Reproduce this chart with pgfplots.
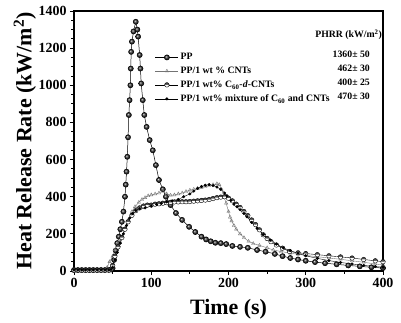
\documentclass[border=0pt]{standalone}
\usepackage{pgfplots}
\pgfplotsset{compat=1.18}
\usepackage{fontspec}
\setmainfont{Liberation Serif}
\begin{document}
\begin{tikzpicture}
\begin{axis}[at={(0,0)}, anchor=south west, scale only axis,
  width=309bp, height=260bp,
  xmin=0, xmax=400, ymin=0, ymax=1400,
  xtick={0,100,...,400}, ytick={0,200,...,1400},
  minor x tick num=1, minor y tick num=3,
  tick align=outside, tick pos=left,
  axis line style={line width=1.1pt},
  major tick length=4bp, minor tick length=2.5bp,
  every tick/.style={line width=0.9pt, black},
  ticklabel style={font=\fontsize{14}{14}\selectfont\bfseries},
  /pgf/number format/assume math mode=true,
  /pgf/number format/set thousands separator={},
  label style={font=\fontsize{22}{24}\selectfont\bfseries},
  xlabel={Time (s)}, ylabel={Heat Release Rate (kW/m\textsuperscript{2})},
  xlabel style={at={(axis description cs:0.5,-0.146)}, anchor=center},
  ylabel style={at={(axis description cs:-0.159,0.5)}, anchor=center},
  legend style={at={(rel axis cs:0.262,0.845)}, anchor=north west, draw=none, fill=none,
    font=\fontsize{9.8}{11}\selectfont\bfseries, row sep=1.7bp, inner sep=0pt},
  legend cell align=left,
  legend image code/.code={\draw[mark repeat=2,mark phase=2,#1] plot coordinates {(0bp,0bp) (11.5bp,0bp) (23bp,0bp)};},
]
% PP
\addplot[black, line width=0.5pt, mark=ball, mark size=2.6bp, mark options={ball color=black!80}] coordinates {
(0,5)(5,5)(10,5)(15,5)(20,5)(25,5)(30,5)(35,5)(40,5)(45,6)(48,8)(50,15)(52,60)(54,110)(56,150)(58,185)(60,225)(62,265)(64,320)(66,400)(67,465)(68,535)(69,615)(70,720)(71,840)(72,920)(73,1000)(73.5,1090)(74,1180)(75,1235)(77,1290)(80,1342)(82,1300)(83,1262)(85,1163)(86,1090)(87,1010)(89,920)(91,840)(94,776)(98,705)(102,650)(106,570)(110,490)(115,440)(119,400)(125,355)(132,312)(140,275)(149,238)(157,210)(165,185)(171,170)(177,160)(183,152)(190,150)(197,145)(205,135)(215,130)(225,125)(237,113)(248,104)(260,92)(270,80)(280,70)(290,62)(300,55)(312,48)(325,42)(340,36)(355,30)(370,25)(385,20)(400,16)};
\addlegendentry{PP}
% CNTs
\addplot[black!55, line width=0.4pt, mark=triangle, mark size=1.9bp, mark options={black!55, line width=0.4pt}] coordinates {
(0,8)(5,8)(10,8)(15,8)(20,8)(25,8)(30,8)(35,8)(40,8)(43,20)(46,50)(50,80)(53,113)(57,150)(62,185)(66,230)(70,274)(75,320)(79,346)(84,370)(88,385)(92,395)(96,405)(100,410)(105,415)(110,420)(115,430)(120,415)(125,408)(130,410)(135,415)(140,420)(145,428)(150,435)(155,440)(160,445)(165,450)(170,455)(175,460)(180,465)(185,470)(188,465)(191,440)(194,400)(197,365)(200,320)(202,290)(204,270)(207,245)(210,225)(215,200)(220,180)(226,160)(232,148)(240,138)(250,125)(258,113)(268,105)(280,96)(290,90)(300,84)(315,77)(330,70)(345,63)(360,55)(375,47)(390,38)(400,33)};
\addlegendentry{PP/1 wt \% CNTs}
% C60-d-CNTs
\addplot[black, line width=0.4pt, mark=halfcircle*, mark size=2.3bp, mark options={fill=black!70, line width=0.4pt}] coordinates {
(0,5)(5,5)(10,5)(15,5)(20,5)(25,5)(30,5)(35,5)(40,5)(45,5)(48,10)(50,30)(53,80)(57,130)(62,180)(66,225)(70,265)(75,300)(80,325)(85,340)(90,350)(95,355)(100,355)(105,360)(110,362)(115,365)(120,368)(125,370)(130,372)(135,372)(140,373)(145,373)(150,374)(155,376)(160,378)(165,380)(170,382)(175,385)(180,390)(185,395)(190,398)(195,400)(200,392)(205,378)(210,360)(215,342)(220,320)(225,298)(230,275)(235,250)(240,222)(245,195)(250,175)(255,158)(262,140)(270,123)(279,105)(290,98)(300,94)(315,88)(330,82)(345,76)(360,70)(375,62)(390,55)(400,50)};
\addlegendentry{PP/1 wt\% C\textsubscript{60}-\textit{d}-CNTs}
% mixture
\addplot[black, line width=0.4pt, mark=*, mark size=1.3bp] coordinates {
(0,5)(5,5)(10,5)(15,5)(20,5)(25,5)(30,5)(35,5)(40,5)(45,5)(48,8)(50,20)(53,60)(56,100)(60,150)(64,200)(68,245)(72,285)(76,310)(80,325)(85,335)(92,340)(100,350)(107,358)(113,364)(120,372)(127,378)(135,385)(142,400)(150,415)(155,430)(160,445)(165,455)(170,462)(175,465)(180,460)(185,452)(190,440)(195,420)(198,405)(203,380)(207,360)(211,346)(215,330)(220,310)(224,292)(230,262)(237,230)(245,195)(254,167)(262,145)(271,124)(280,110)(290,95)(300,82)(315,68)(330,56)(345,46)(360,38)(375,30)(390,24)(400,20)};
\addlegendentry{PP/1 wt\% mixture of C\textsubscript{60} and CNTs}
\begin{scope}[every node/.style={font=\fontsize{9.8}{11}\selectfont\bfseries, inner sep=0pt}]
\node[anchor=east] at (rel axis cs:0.997,0.908) {PHRR (kW/m\textsuperscript{2})};
\node[anchor=east] at (rel axis cs:0.958,0.833) {1360± 50};
\node[anchor=east] at (rel axis cs:0.958,0.780) {462± 30};
\node[anchor=east] at (rel axis cs:0.958,0.724) {400± 25};
\node[anchor=east] at (rel axis cs:0.958,0.670) {470± 30};
\end{scope}
\end{axis}
\pgfresetboundingbox
\path (-74bp,-52bp) rectangle (327bp,271bp);
\end{tikzpicture}
\end{document}
